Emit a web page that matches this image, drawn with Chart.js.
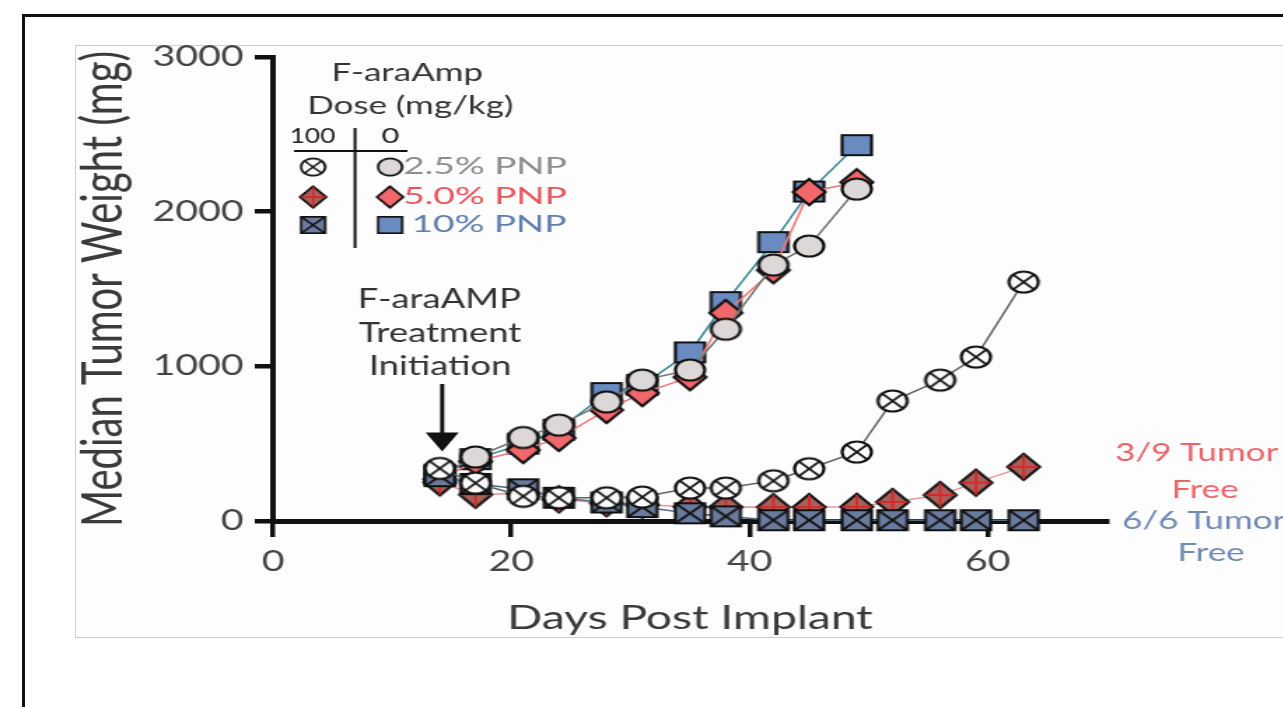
<!DOCTYPE html>
<html>
<head>
<meta charset="utf-8">
<script src="https://cdn.jsdelivr.net/npm/chart.js@4/dist/chart.umd.min.js"></script>
<style>
  body { margin: 0; width: 1283px; height: 707px; overflow: hidden; background: #fff; position: relative; }
  #frame { position: absolute; left: 22px; top: 14px; width: 1400px; height: 900px; border: 3px solid #111; }
  #panel { position: absolute; left: 75px; top: 45px; width: 1400px; height: 591px; border: 1px solid #cfcfcf; background: #fdfdfd; }
  /* the source figure is stretched sideways, so draw narrow and stretch */
  #wrap { position: absolute; left: 0; top: 0; width: 917px; height: 707px; transform: scaleX(1.4); transform-origin: 0 0; }
</style>
</head>
<body>
<div id="frame"></div>
<div id="panel"></div>
<div id="wrap"><canvas id="tumorChart"></canvas></div>
<script>
//data
var treatedDays = [14, 17, 21, 24, 28, 31, 35, 38, 42, 45, 49, 52, 56, 59, 63];
var controlDays = [14, 17, 21, 24, 28, 31, 35, 38, 42, 45, 49];

var pnp25Treated = [340, 245, 160, 150, 150, 155, 213, 213, 260, 338, 446, 776, 911, 1060, 1545];
var pnp50Treated = [250, 170, 180, 140, 115, 105, 92, 90, 90, 90, 92, 123, 168, 248, 350];
var pnp10Treated = [290, 240, 205, 150, 120, 90, 50, 30, 5, 5, 5, 5, 5, 5, 5];

var pnp25Control = [297, 414, 540, 620, 770, 911, 976, 1240, 1655, 1778, 2146];
var pnp50Control = [270, 385, 459, 537, 718, 827, 930, 1345, 1622, 2127, 2190];
var pnp10Control = [300, 400, 500, 590, 827, 880, 1090, 1415, 1803, 2130, 2430];

var xTickValues = [0, 20, 40, 60];
var yTickValues = [0, 1000, 2000, 3000];

var FONT = 'Lato, "Open Sans", sans-serif';

//builds a little canvas used as the point style
function makeMarker(shape, fill, inner, innerColor) {
	var c = document.createElement('canvas');
	c.width = 30; c.height = 32;
	var g = c.getContext('2d');
	var cx = 15, cy = 16;
	g.lineWidth = 2.2;
	g.strokeStyle = '#111';
	g.fillStyle = fill;
	g.beginPath();
	if(shape == 'circle') {
		g.arc(cx, cy, 10.5, 0, Math.PI * 2);
	} else if(shape == 'diamond') {
		g.moveTo(cx, cy - 13); g.lineTo(cx + 11.5, cy); g.lineTo(cx, cy + 13); g.lineTo(cx - 11.5, cy); g.closePath();
	} else {
		g.rect(cx - 10.5, cy - 10, 21, 20);
	}
	g.fill(); g.stroke();
	g.strokeStyle = innerColor || '#111';
	g.lineWidth = 1.8;
	g.beginPath();
	if(inner == 'x' && shape == 'circle') {
		g.moveTo(cx - 7.4, cy - 7.4); g.lineTo(cx + 7.4, cy + 7.4);
		g.moveTo(cx + 7.4, cy - 7.4); g.lineTo(cx - 7.4, cy + 7.4);
	} else if(inner == 'x') {
		g.moveTo(cx - 10.5, cy - 10); g.lineTo(cx + 10.5, cy + 10);
		g.moveTo(cx + 10.5, cy - 10); g.lineTo(cx - 10.5, cy + 10);
	} else if(inner == 'plus') {
		g.moveTo(cx, cy - 12); g.lineTo(cx, cy + 12);
		g.moveTo(cx - 10.5, cy); g.lineTo(cx + 10.5, cy);
	}
	g.stroke();
	return c;
}

var markers = {
	t25: makeMarker('circle', '#fafafa', 'x'),
	t50: makeMarker('diamond', '#a9605b', 'plus', '#d42a2a'),
	t10: makeMarker('square', '#6a7c9e', 'x'),
	c25: makeMarker('circle', '#ddd7d7'),
	c50: makeMarker('diamond', '#f0676c'),
	c10: makeMarker('square', '#6a8bc0')
};

function pairs(days, vals) {
	return days.map(function(d, i) { return {x: d, y: vals[i]}; });
}

function series(label, days, vals, marker, lineColor) {
	return {
		label: label,
		data: pairs(days, vals),
		borderColor: lineColor,
		borderWidth: 1.6,
		pointStyle: marker,
		pointRadius: 11,
		clip: false,
		tension: 0
	};
}

//text helper, k stretches it a bit more sideways
function label(ctx, s, x, y, size, color, align, k) {
	ctx.save();
	ctx.translate(x, y);
	ctx.scale(k || 1, 1);
	ctx.font = size + 'px ' + FONT;
	ctx.fillStyle = color;
	ctx.textAlign = align || 'center';
	ctx.textBaseline = 'middle';
	ctx.fillText(s, 0, 0);
	ctx.restore();
}

var annotations = {
	id: 'annotations',
	afterDraw: function(chart) {
		var ctx = chart.ctx;
		var xs = chart.scales.x, ys = chart.scales.y;

		//inset legend
		label(ctx, 'F-araAmp', 291, 73, 25, '#333');
		label(ctx, 'Dose (mg/kg)', 293, 106, 25, '#333');
		label(ctx, '100', 207, 136, 22, '#222', 'left', 0.85);
		label(ctx, '0', 279, 136, 22, '#222');
		ctx.save();
		ctx.strokeStyle = '#111';
		ctx.lineWidth = 2;
		ctx.beginPath();
		ctx.moveTo(210, 151); ctx.lineTo(291, 151);
		ctx.moveTo(253.6, 128); ctx.lineTo(253.6, 248);
		ctx.stroke();
		ctx.restore();
		var rows = [
			[markers.t25, markers.c25, '2.5% PNP', '#8c8c8c', 167, 288],
			[markers.t50, markers.c50, '5.0% PNP', '#e9535c', 197, 288],
			[markers.t10, markers.c10, '10% PNP', '#5e7db0', 225, 294]
		];
		rows.forEach(function(r) {
			var w = r[0].width * 0.82, h = r[0].height * 0.82;
			ctx.drawImage(r[0], 223.6 - w / 2, r[4] - h / 2, w, h);
			ctx.drawImage(r[1], 278.6 - w / 2, r[4] - h / 2, w, h);
			label(ctx, r[2], r[5], r[4], 23, r[3], 'left', 1.15);
		});

		//treatment start
		var ax = xs.getPixelForValue(14.2);
		var tip = ys.getPixelForValue(450);
		label(ctx, 'F-araAMP', ax - 2, 300, 26, '#333');
		label(ctx, 'Treatment', ax - 1.5, 334, 26, '#333');
		label(ctx, 'Initiation', ax - 1.5, 367, 26, '#333');
		ctx.save();
		ctx.strokeStyle = '#111';
		ctx.fillStyle = '#111';
		ctx.lineWidth = 3;
		ctx.beginPath();
		ctx.moveTo(ax, 384); ctx.lineTo(ax, tip - 16);
		ctx.stroke();
		ctx.beginPath();
		ctx.moveTo(ax - 11.8, tip - 19); ctx.lineTo(ax + 11.8, tip - 19); ctx.lineTo(ax, tip); ctx.closePath();
		ctx.fill();
		ctx.restore();

		//tumor free notes on the right
		label(ctx, '3/9 Tumor', 796.4, 453, 25, '#e8646a', 'left');
		label(ctx, 'Free', 860.7, 490, 25, '#e8646a');
		label(ctx, '6/6 Tumor', 801.4, 521, 25, '#6f8ab5', 'left');
		label(ctx, 'Free', 865, 553, 25, '#6f8ab5');
	}
};

var chart = new Chart(document.getElementById('tumorChart'), {
	type: 'line',
	data: {
		datasets: [
			series('100 mg/kg 2.5% PNP', treatedDays, pnp25Treated, markers.t25, '#666'),
			series('100 mg/kg 10% PNP', treatedDays, pnp10Treated, markers.t10, '#4f6f8f'),
			series('100 mg/kg 5.0% PNP', treatedDays, pnp50Treated, markers.t50, '#e59a9a'),
			series('0 mg/kg 2.5% PNP', controlDays, pnp25Control, markers.c25, '#777'),
			series('0 mg/kg 5.0% PNP', controlDays, pnp50Control, markers.c50, '#ef7a7a'),
			series('0 mg/kg 10% PNP', controlDays, pnp10Control, markers.c10, '#3e8a96')
		]
	},
	options: {
		responsive: true,
		maintainAspectRatio: false,
		animation: false,
		events: [],
		layout: { padding: { left: 53.6, top: 57, right: 126.3, bottom: 70 } },
		plugins: { legend: { display: false }, tooltip: { enabled: false } },
		scales: {
			x: {
				type: 'linear',
				min: 0,
				max: 70,
				afterBuildTicks: function(s) { s.ticks = xTickValues.map(function(v) { return {value: v}; }); },
				afterFit: function(s) { s.height = 116; },
				border: { display: true, color: '#111', width: 5 },
				grid: { drawOnChartArea: false, drawTicks: true, tickLength: 16, color: '#111', lineWidth: 3.5 },
				ticks: { color: '#444', padding: 8, font: { family: FONT, size: 28 }, callback: function(v) { return String(v); } },
				title: { display: true, text: 'Days Post Implant', color: '#3a3a3a', padding: 0, font: { family: FONT, size: 33, lineHeight: 1.15 } }
			},
			y: {
				min: 0,
				max: 3000,
				afterBuildTicks: function(s) { s.ticks = yTickValues.map(function(v) { return {value: v}; }); },
				afterFit: function(s) { s.width = 141.4; },
				border: { display: true, color: '#111', width: 4 },
				grid: { drawOnChartArea: false, drawTicks: true, tickLength: 13, color: '#111', lineWidth: 4.5 },
				ticks: { color: '#444', padding: 8, font: { family: FONT, size: 28 }, callback: function(v) { return String(v); } },
				title: { display: true, text: 'Median Tumor Weight (mg)', color: '#3a3a3a', padding: 0, font: { family: FONT, size: 40, lineHeight: 1 } }
			}
		}
	},
	plugins: [annotations]
});
</script>
</body>
</html>
